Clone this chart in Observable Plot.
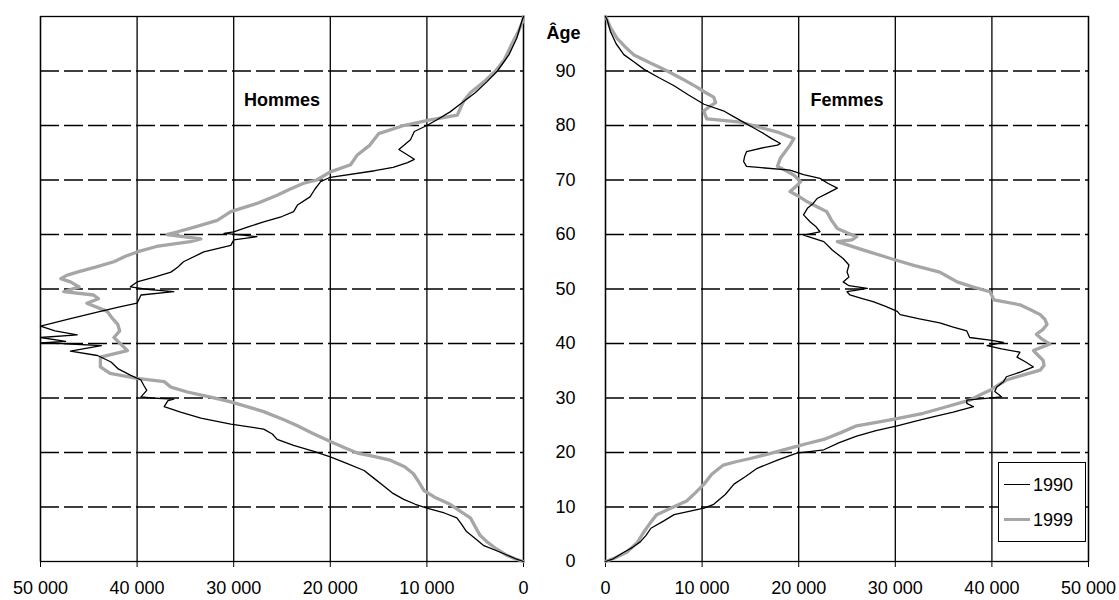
<!DOCTYPE html>
<html><head><meta charset="utf-8">
<script src="https://cdn.jsdelivr.net/npm/d3@7"></script>
<script src="https://cdn.jsdelivr.net/npm/@observablehq/plot@0.6"></script>
<style>
body{margin:0;background:#fff;}
#wrap{position:relative;width:1119px;height:600px;font-family:"Liberation Sans",Arial,sans-serif;overflow:hidden;background:#fff}
#left{position:absolute;left:0;top:0}
#right{position:absolute;left:540px;top:0}
#legend{position:absolute;left:998px;top:462px;width:88px;height:80px;border:1px solid #000;background:#fff;font-size:18px;box-sizing:border-box}
#legend .row{position:absolute;left:0;height:20px;line-height:20px}
#legend .sw{position:absolute;left:5px;top:10px;width:26px}
#legend .lb{position:absolute;left:34px;top:0}
</style></head><body>
<div id="wrap"><div id="left"></div><div id="right"></div><div id="legend"></div></div>
<script>
// ---- data ----
const xTicks = [0, 10000, 20000, 30000, 40000, 50000];
const ageTicks = [0, 10, 20, 30, 40, 50, 60, 70, 80, 90];
const ageGrid = [10, 20, 30, 40, 50, 60, 70, 80, 90];
const years = ["1990", "1999"];
const panelTitles = ["Hommes", "Femmes"];
const axisTitle = "Âge";

const menAge1990 = [0,0.5,1.7,2.9,4.2,5.5,6.8,8.0,8.9,9.8,10.5,11.4,12.6,13.9,15.3,16.7,18.0,19.2,20.2,21.3,22.4,23.4,24.3,25.2,26.3,27.4,28.4,29.5,29.8,30.0,30.2,31.4,32.3,33.3,34.2,35.4,36.6,37.8,38.6,39.6,40.0,40.1,40.4,41.1,41.6,42.3,43.2,44.5,45.9,46.7,47.4,48.9,49.5,49.9,50.4,51.3,52.2,53.1,54.0,55.0,56.8,58.0,59.0,59.6,59.9,60.2,60.5,61.4,62.3,63.3,64.2,65.4,66.9,68.3,69.7,70.5,71.7,72.3,73.2,73.8,75.6,77.4,78.9,80.0,81.0,82.5,84.0,86.0,88.0,90.0,93.0,96.0,99.0,100];
const men1990 = [0,800,2400,4100,5000,5900,6400,6900,8200,10000,11200,12400,13600,14500,15500,16500,18300,20000,21700,23800,25500,26000,26900,30300,33400,35500,37200,36800,36200,38500,39600,39000,39300,39600,40700,42000,42700,44100,46900,43700,47900,50000,47400,50000,46200,48500,50000,47000,43800,41800,40000,39600,36200,38700,40700,40000,38200,36500,35800,35200,33100,30300,30000,27600,29000,31000,30000,28500,26900,25000,23800,23400,22100,21600,21000,20000,15400,13500,12000,11300,12900,11700,11300,10000,9000,7600,6500,5000,3800,2700,1500,700,200,0];

const menAge1999 = [0,0.5,1.2,2.3,3.5,4.8,6.4,8.0,9.3,10.5,11.8,13.0,14.5,16.1,17.4,18.6,19.3,19.9,21.0,22.0,23.5,24.9,26.0,27.5,29.3,30.2,31.1,32.0,33.0,33.6,34.5,35.7,37.5,38.7,39.9,41.1,42.3,43.5,44.7,45.9,47.4,48.2,48.9,49.5,50.4,51.3,51.9,52.5,53.1,54.0,55.0,56.0,56.8,57.8,58.7,59.2,60.0,60.5,61.5,62.6,64.2,65.7,67.2,68.3,69.4,70.0,71.5,72.8,74.6,76.4,78.5,80.0,81.0,81.9,83.3,84.5,86.0,88.0,90.0,92.0,95.0,97.0,99.0,100];
const men1999 = [0,900,1800,2800,3700,4500,5000,5500,6600,7600,9200,10300,10800,11400,12300,13800,15500,17200,18700,20000,21800,23400,24800,26900,30300,32500,34800,36500,37200,40000,42800,43800,43800,41000,41700,42400,41800,42000,42600,43100,45200,44000,44500,47600,46000,46900,47900,47300,46200,44300,42400,41200,40000,38000,34500,33400,36900,35800,33800,31700,30300,27600,25500,24200,22750,21400,20000,17900,17200,15900,15000,12400,9800,6850,6500,6200,5500,4100,2900,2000,1200,600,100,0];

const womenAge1990 = [0,0.5,1.7,2.6,3.6,4.8,6.1,7.4,8.6,9.8,10.5,12.3,14.2,15.6,17.1,18.6,19.9,20.5,21.8,23.0,24.0,24.9,25.8,26.6,27.4,28.4,29.0,29.6,29.9,30.2,30.5,31.2,32.0,33.0,33.9,34.8,35.7,36.6,37.5,38.4,39.0,39.6,40.2,40.6,41.1,42.3,43.0,43.8,44.5,45.3,45.9,46.8,47.7,48.3,48.9,49.5,49.8,50.1,50.6,51.3,52.2,53.1,54.4,55.6,57.1,58.7,59.9,60.5,61.4,62.3,63.6,64.8,65.7,66.6,67.6,68.5,69.4,70.3,71.0,71.8,72.5,73.4,74.3,75.2,76.0,76.4,76.7,77.6,78.5,79.4,80.3,81.5,82.7,83.9,85.6,87.3,88.8,90.3,91.6,93.0,95.0,97.3,99.4,100];
const women1990 = [0,800,1900,2800,3600,4200,4700,6000,7100,10200,11200,12400,13300,14500,15700,17800,19800,22600,24200,26000,28000,30200,32200,34000,36000,38100,37400,37400,39100,41000,40800,40300,40500,41200,41500,43000,44300,43500,42600,42900,41000,39500,41200,39800,37700,37400,36000,34600,32500,30500,30200,29000,27700,26500,25300,25000,26000,27100,25200,24600,25200,25000,25200,24600,23500,22600,20500,22200,21800,21200,20500,20900,21500,21900,23000,24000,23000,22200,20500,19100,14600,14300,14400,14600,16500,17800,18100,17200,16400,15500,14600,13400,12200,10200,8600,7100,5500,4000,3000,1900,1100,500,170,0];

const womenAge1999 = [0,0.6,1.7,3.5,5.5,7.0,8.6,9.8,11.1,12.6,14.2,16.0,17.7,18.3,18.9,19.8,20.8,21.6,22.4,23.6,24.9,26.0,27.2,28.4,29.6,30.5,31.4,32.3,33.3,34.2,35.1,36.0,36.9,37.8,38.7,39.9,40.8,41.7,42.6,43.5,44.4,45.3,46.2,47.1,48.0,48.8,49.5,50.4,51.3,52.2,53.1,54.3,55.6,57.1,58.7,59.0,59.6,60.3,61.1,62.6,64.2,65.1,66.0,67.0,67.9,68.8,69.7,70.9,71.7,72.5,74.0,75.2,76.4,77.6,78.8,79.7,80.6,81.2,82.0,82.7,83.5,84.2,85.2,86.1,87.0,88.5,90.0,91.5,93.0,94.5,96.0,98.0,99.4,100];
const women1999 = [0,900,2200,3300,4000,4600,5300,6800,8400,9300,10200,11000,12200,13500,15000,17000,19100,20800,22600,24300,26000,29500,32900,35300,37700,38700,39800,40600,41500,43200,45000,45400,45300,44800,44300,46000,45200,44600,45300,45700,45500,45000,44000,42900,40200,40000,39800,38000,36400,35500,34600,32000,29500,26800,24000,25500,26000,25000,24000,23400,22900,21900,20900,20000,19100,19700,20200,19500,18700,17800,18100,18600,19100,19500,17800,15900,14000,10500,10300,10200,10800,11400,11200,10300,9500,8000,6400,4600,2900,2000,1200,500,170,0];

// ---- build tables ----
const rows = (ages, vals) => ages.map((a, i) => ({age: a, value: vals[i]}));
const m90 = rows(menAge1990, men1990), m99 = rows(menAge1999, men1999);
const f90 = rows(womenAge1990, women1990), f99 = rows(womenAge1999, women1999);

const fmt = d => d3.format(",")(d).replace(/,/g, " ");
const FONT = "'Liberation Sans', Arial, sans-serif";
const GRAY = "#a6a6a6";
const baseStyle = {fontFamily: FONT, fontSize: "18px", background: "transparent", color: "#000", overflow: "visible"};

function panelMarks(d90, d99, title) {
  return [
    Plot.ruleY(ageGrid, {y: d => d, stroke: "#000", strokeWidth: 1.3, strokeDasharray: "19,5"}),
    Plot.ruleX(xTicks, {x: d => d, stroke: "#000", strokeWidth: 1.3}),
    Plot.frame({stroke: "#000", strokeWidth: 1.3}),
    Plot.line(d99, {x: "value", y: "age", stroke: GRAY, strokeWidth: 3.3, strokeLinejoin: "round"}),
    Plot.line(d90, {x: "value", y: "age", stroke: "#000", strokeWidth: 1.3, strokeLinejoin: "round"}),
    Plot.text([title], {frameAnchor: "top", dy: 77, fontWeight: "bold", fontSize: 18, fill: "#000"})
  ];
}

const left = Plot.plot({
  width: 540, height: 600,
  marginLeft: 40, marginRight: 17, marginTop: 16, marginBottom: 39,
  style: baseStyle,
  x: {domain: [0, 50000], reverse: true, ticks: xTicks, tickFormat: fmt, tickSize: 6, tickPadding: 14, label: null},
  y: {domain: [0, 100], axis: null},
  marks: panelMarks(m90, m99, panelTitles[0])
});
document.getElementById("left").appendChild(left);

const right = Plot.plot({
  width: 579, height: 600,
  marginLeft: 65, marginRight: 31, marginTop: 16, marginBottom: 39,
  style: baseStyle,
  x: {domain: [0, 50000], ticks: xTicks, tickFormat: fmt, tickSize: 6, tickPadding: 14, label: null},
  y: {domain: [0, 100], ticks: ageTicks, tickSize: 0, tickPadding: 30, label: null},
  marks: [
    ...panelMarks(f90, f99, panelTitles[1]),
    Plot.text([axisTitle], {frameAnchor: "top-left", dx: -42, dy: 10, textAnchor: "middle", fontWeight: "bold", fontSize: 18, fill: "#000"})
  ]
});
document.getElementById("right").appendChild(right);

// ---- legend ----
const legend = document.getElementById("legend");
const swatch = [{stroke: "#000", w: 1.4}, {stroke: GRAY, w: 3.5}];
years.forEach((y, i) => {
  const row = document.createElement("div");
  row.className = "row";
  row.style.top = (12 + i * 35) + "px";
  row.style.width = "86px";
  row.innerHTML = `<div class="sw" style="border-top:${swatch[i].w}px solid ${swatch[i].stroke};margin-top:${-swatch[i].w/2}px"></div><span class="lb">${y}</span>`;
  legend.appendChild(row);
});
</script>
</body></html>
